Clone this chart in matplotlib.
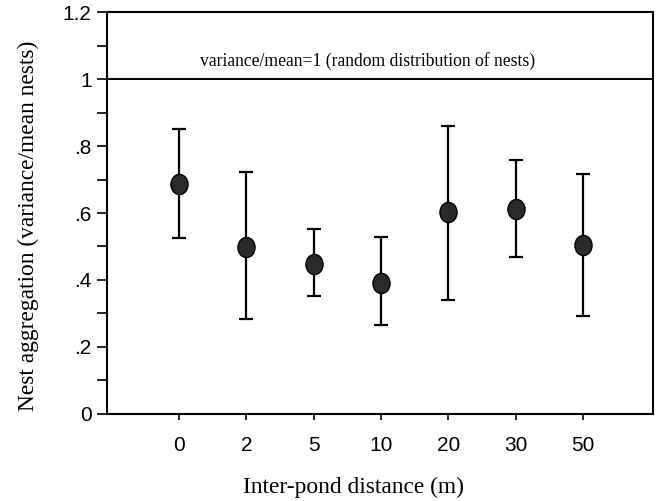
import matplotlib
matplotlib.use("Agg")
import matplotlib.pyplot as plt
from matplotlib.path import Path
import numpy as np

# data
distances = ["0", "2", "5", "10", "20", "30", "50"]
means = [0.687, 0.499, 0.448, 0.390, 0.603, 0.612, 0.505]
upper = [0.851, 0.722, 0.552, 0.528, 0.860, 0.758, 0.716]
lower = [0.525, 0.284, 0.352, 0.266, 0.340, 0.469, 0.292]
y_ticks = [0, 0.2, 0.4, 0.6, 0.8, 1.0, 1.2]
y_ticklabels = ["0", ".2", ".4", ".6", ".8", "1", "1.2"]

serif = "Liberation Serif"
sans = "Liberation Sans"

# slightly tall oval marker, like the scanned original
circ = Path.unit_circle()
oval = Path(circ.vertices * np.array([0.85, 1.0]), circ.codes)

fig = plt.figure(figsize=(6.58, 5.01), dpi=100)
ax = fig.add_axes([0.1626, 0.1737, 0.8298, 0.8023])

x = np.arange(len(distances))
m = np.array(means)
yerr = [m - np.array(lower), np.array(upper) - m]

ax.errorbar(x, m, yerr=yerr, fmt="none", ecolor="black", elinewidth=1.6,
            capsize=5, capthick=1.6, zorder=2)
ax.plot(x, m, marker=oval, ls="none", ms=14.5, mfc="#2a2a2a", mec="black",
        mew=1.0, zorder=3)

# reference line for random distribution
ax.axhline(1.0, color="black", lw=1.4, zorder=1)
ax.text(2.8, 1.055, "variance/mean=1 (random distribution of nests)",
        ha="center", va="center", fontsize=12.7, family=serif)

ax.set_xlim(-1.07, 7.04)
ax.set_ylim(0, 1.2)
ax.set_xticks(x)
ax.set_xticklabels(distances, fontsize=15, family=sans)
ax.set_yticks(y_ticks)
ax.set_yticklabels(y_ticklabels, fontsize=15, family=sans)
ax.set_yticks(np.arange(0.1, 1.2, 0.2), minor=True)

ax.tick_params(axis="y", which="both", direction="out", length=7, width=1.2, pad=4)
ax.tick_params(axis="x", which="major", direction="out", length=4, width=1.2, pad=12)

for sp in ax.spines.values():
    sp.set_linewidth(1.5)

ax.set_xlabel("Inter-pond distance (m)", fontsize=16.8, family=serif)
ax.set_ylabel("Nest aggregation (variance/mean nests)", fontsize=16.8, family=serif)
ax.xaxis.set_label_coords(0.452, -0.1816)
ax.yaxis.set_label_coords(-0.1447, 0.468)
ax.xaxis.label.set_va("center")
ax.yaxis.label.set_va("center")

fig.savefig("out.png", dpi=100)
